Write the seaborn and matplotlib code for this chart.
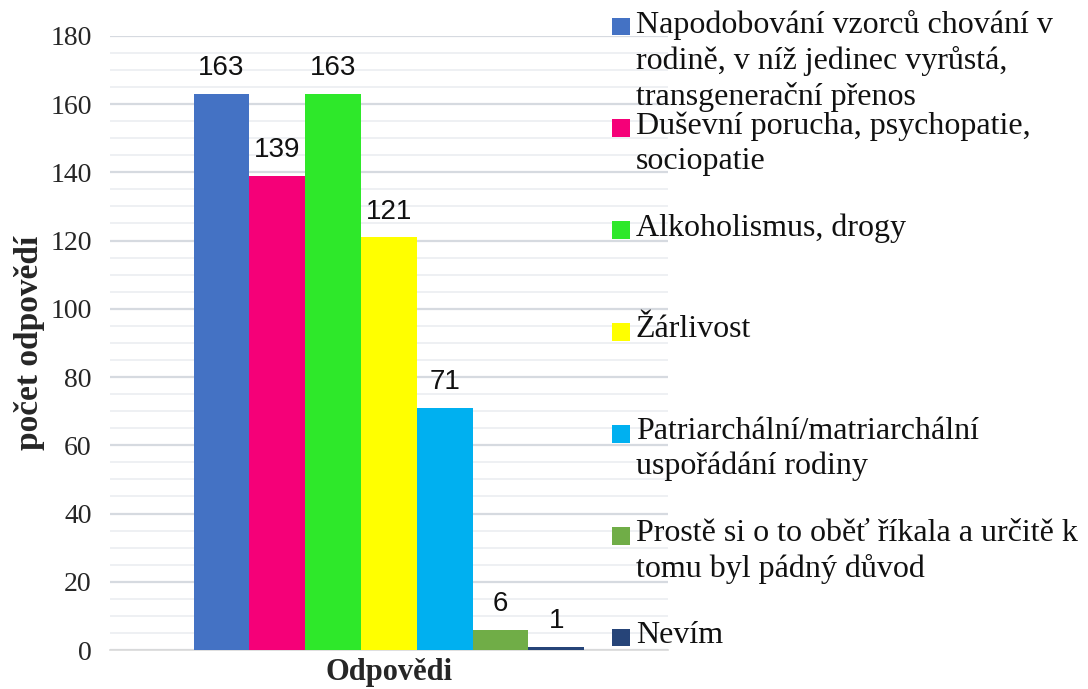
import matplotlib.pyplot as plt
import seaborn as sns
import pandas as pd
from matplotlib.patches import Rectangle
from matplotlib.ticker import MultipleLocator

# data
kategorie = "Odpovědi"
priciny = [
    "Napodobování vzorců chování v\nrodině, v níž jedinec vyrůstá,\ntransgenerační přenos",
    "Duševní porucha, psychopatie,\nsociopatie",
    "Alkoholismus, drogy",
    "Žárlivost",
    "Patriarchální/matriarchální\nuspořádání rodiny",
    "Prostě si o to oběť říkala a určitě k\ntomu byl pádný důvod",
    "Nevím",
]
pocty = [163, 139, 163, 121, 71, 6, 1]
barvy = ["#4472C4", "#F50078", "#2EE82A", "#FFFF00", "#00B0F0", "#70AD47", "#264478"]

df = pd.DataFrame({"kat": [kategorie] * len(pocty), "pricina": priciny, "n": pocty})

sns.set_style("white")
plt.rcParams["font.family"] = ["Liberation Serif", "DejaVu Serif"]

fig = plt.figure(figsize=(10.88, 6.89), dpi=100)
ax = fig.add_axes([0.101, 0.0566, 0.513, 0.8915])

sns.barplot(data=df, x="kat", y="n", hue="pricina", palette=barvy, saturation=1,
            width=0.7, dodge=True, legend=False, ax=ax, zorder=3, linewidth=0)

for cont in ax.containers:
    ax.bar_label(cont, padding=9, fontsize=20, family="Liberation Sans", color="#111111")

ax.set_ylim(0, 180)
ax.set_xlim(-0.5, 0.5)
ax.yaxis.set_major_locator(MultipleLocator(20))
ax.yaxis.set_minor_locator(MultipleLocator(5))
ax.grid(axis="y", which="major", color="#D6DAE0", linewidth=1.6, zorder=0)
ax.grid(axis="y", which="minor", color="#EEF0F3", linewidth=1.4, zorder=0)
ax.set_axisbelow(True)
for s in ["top", "right", "left"]:
    ax.spines[s].set_visible(False)
ax.spines["bottom"].set_color("#D9D9D9")
ax.spines["bottom"].set_linewidth(1.2)
ax.tick_params(axis="y", which="both", length=0, labelsize=20, pad=13)
ax.tick_params(axis="x", length=0, labelsize=1, labelcolor="white")
ax.set_xticklabels([""])
ax.set_xlabel("Odpovědi", fontsize=22, fontweight="bold", labelpad=2)
ax.set_ylabel("počet odpovědí", fontsize=24, fontweight="bold", labelpad=4)

# legend drawn by hand so the marker sits at the first text line
leg_x = 0.5625
leg_top = 0.962
krok = 0.1478
for i, (lab, c) in enumerate(zip(priciny, barvy)):
    y = leg_top - i * krok
    fig.patches.append(Rectangle((leg_x, y - 0.0135), 0.017, 0.026, transform=fig.transFigure,
                                 facecolor=c, edgecolor="none", figure=fig))
    fig.text(leg_x + 0.022, y + 0.024, lab, fontsize=23, va="top", ha="left",
             linespacing=1.26, color="#111111")

fig.savefig("out.png", dpi=100)
